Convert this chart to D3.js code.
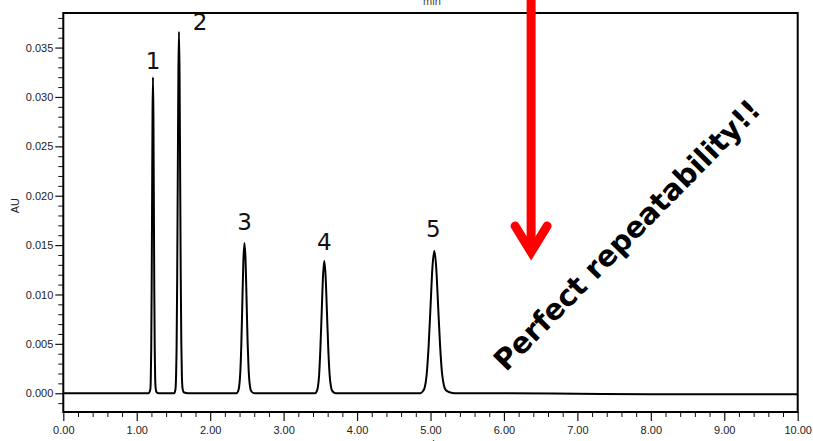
<!DOCTYPE html>
<html>
<head>
<meta charset="utf-8">
<script src="https://cdn.jsdelivr.net/npm/d3@7"></script>
<style>
  html, body { margin: 0; padding: 0; background: #fff; }
  svg { display: block; }
  .tick text { font-family: "Liberation Sans", Arial, sans-serif; font-size: 11px; fill: #222; }
</style>
</head>
<body>
<svg id="chart" width="813" height="441"></svg>
<script>
// Chromatogram trace: retention time (min) vs absorbance (AU), one array per region
const baselineStart = [[0.00, 0.0000], [0.50, 0.0000], [1.00, 0.0000], [1.16, 0.0000]];
const peak1 = [[1.185, 0.0004], [1.191, 0.0014], [1.197, 0.0043], [1.203, 0.0104], [1.209, 0.0194],
               [1.215, 0.0282], [1.221, 0.0320], [1.227, 0.0282], [1.233, 0.0194], [1.239, 0.0105],
               [1.245, 0.0045], [1.251, 0.0015], [1.258, 0.0005], [1.270, 0.0001], [1.300, 0.0000]];
const peak2 = [[1.510, 0.0000], [1.527, 0.0004], [1.535, 0.0016], [1.543, 0.0049], [1.551, 0.0119],
               [1.559, 0.0222], [1.567, 0.0323], [1.575, 0.0366], [1.583, 0.0323], [1.591, 0.0222],
               [1.599, 0.0120], [1.607, 0.0051], [1.615, 0.0017], [1.624, 0.0005], [1.640, 0.0001],
               [1.700, 0.0000]];
const peak3 = [[2.360, 0.0000], [2.380, 0.0002], [2.395, 0.0007], [2.410, 0.0021], [2.424, 0.0049],
               [2.438, 0.0092], [2.452, 0.0134], [2.467, 0.0152], [2.482, 0.0134], [2.496, 0.0093],
               [2.510, 0.0051], [2.524, 0.0023], [2.540, 0.0008], [2.560, 0.0002], [2.600, 0.0000]];
const peak4 = [[3.430, 0.0000], [3.450, 0.0002], [3.466, 0.0006], [3.483, 0.0018], [3.500, 0.0044],
               [3.518, 0.0081], [3.536, 0.0118], [3.554, 0.0134], [3.572, 0.0118], [3.590, 0.0082],
               [3.608, 0.0045], [3.626, 0.0019], [3.644, 0.0007], [3.665, 0.0002], [3.710, 0.0000]];
const peak5 = [[4.860, 0.0000], [4.896, 0.0002], [4.922, 0.0006], [4.948, 0.0019], [4.974, 0.0047],
               [5.000, 0.0087], [5.026, 0.0127], [5.052, 0.0144], [5.078, 0.0127], [5.104, 0.0088],
               [5.130, 0.0049], [5.156, 0.0021], [5.182, 0.0008], [5.210, 0.0003], [5.260, 0.0001],
               [5.330, 0.0000]];
const baselineEnd = [[6.00, 0.0000], [7.00, -0.00005], [8.00, -0.0001], [9.00, -0.0001], [10.00, -0.0001]];

// Peak annotations
const peakNumbers = ["1", "2", "3", "4", "5"];
const peakTimes = [1.221, 1.575, 2.467, 3.554, 5.052];
const peakHeights = [0.0320, 0.0366, 0.0152, 0.0134, 0.0144];

// Axes
const xTickValues = [0, 1, 2, 3, 4, 5, 6, 7, 8, 9, 10];
const yTickValues = [0.000, 0.005, 0.010, 0.015, 0.020, 0.025, 0.030, 0.035];
const xDomain = [0, 10];
const yDomain = [-0.0019, 0.0385];
const xTitle = "min";
const yTitle = "AU";
const callout = "Perfect repeatability!!";

(function draw() {
  const svg = d3.select("#chart");
  const plotLeft = 63.3, plotRight = 797.7, plotTop = 13, plotBottom = 412;

  const x = d3.scaleLinear().domain(xDomain).range([plotLeft, plotRight]);
  const y = d3.scaleLinear().domain(yDomain).range([plotBottom, plotTop]);

  // minor ticks
  const xMinor = d3.range(0, 10.0001, 0.2).filter(v => Math.abs(v - Math.round(v)) > 1e-6);
  const yMinor = d3.range(-1, 39).map(i => i / 1000)
    .filter(v => Math.abs(v * 200 - Math.round(v * 200)) > 1e-6);

  svg.append("g")
    .attr("transform", `translate(0,${plotBottom})`)
    .call(d3.axisBottom(x).tickValues(xMinor).tickSize(5).tickFormat(""))
    .call(g => g.select(".domain").remove())
    .call(g => g.selectAll("line").attr("stroke", "#111").attr("stroke-width", 1));

  svg.append("g")
    .attr("transform", `translate(0,${plotBottom})`)
    .call(d3.axisBottom(x).tickValues(xTickValues).tickSize(9).tickPadding(5).tickFormat(d3.format(".2f")))
    .call(g => g.select(".domain").remove())
    .call(g => g.selectAll("line").attr("stroke", "#111").attr("stroke-width", 1.2));

  svg.append("g")
    .attr("transform", `translate(${plotLeft},0)`)
    .call(d3.axisLeft(y).tickValues(yMinor).tickSize(5).tickFormat(""))
    .call(g => g.select(".domain").remove())
    .call(g => g.selectAll("line").attr("stroke", "#111").attr("stroke-width", 1));

  svg.append("g")
    .attr("transform", `translate(${plotLeft},0)`)
    .call(d3.axisLeft(y).tickValues(yTickValues).tickSize(8).tickPadding(2).tickFormat(d3.format(".3f")))
    .call(g => g.select(".domain").remove())
    .call(g => g.selectAll("line").attr("stroke", "#111").attr("stroke-width", 1.2));

  // plot frame
  svg.append("rect")
    .attr("x", plotLeft).attr("y", plotTop)
    .attr("width", plotRight - plotLeft).attr("height", plotBottom - plotTop)
    .attr("fill", "none").attr("stroke", "#000").attr("stroke-width", 2);

  // axis titles
  svg.append("text")
    .attr("transform", `translate(19,${y(0.0190)}) rotate(-90)`)
    .attr("text-anchor", "middle")
    .style("font-family", "Liberation Sans, Arial, sans-serif")
    .style("font-size", "11px").attr("fill", "#222")
    .text(yTitle);

  svg.append("text")
    .attr("x", x(5.02)).attr("y", 447.5)
    .attr("text-anchor", "middle")
    .style("font-family", "Liberation Sans, Arial, sans-serif")
    .style("font-size", "11px").attr("fill", "#222")
    .text(xTitle);

  // axis title of the panel above, running off the top edge
  svg.append("text")
    .attr("x", x(5.02)).attr("y", 4.5)
    .attr("text-anchor", "middle")
    .style("font-family", "Liberation Sans, Arial, sans-serif")
    .style("font-size", "11px").attr("fill", "#444")
    .text(xTitle);

  // trace
  const trace = [].concat(baselineStart, peak1, peak2, peak3, peak4, peak5, baselineEnd);
  svg.append("path")
    .datum(trace)
    .attr("fill", "none")
    .attr("stroke", "#000")
    .attr("stroke-width", 2)
    .attr("stroke-linejoin", "round")
    .attr("d", d3.line().x(d => x(d[0])).y(d => y(d[1])).curve(d3.curveMonotoneX));

  // peak numbers
  const labelShift = [[0, -8], [21, -2], [0, -13], [0, -11], [-1, -14]];
  svg.append("g").selectAll("text")
    .data(peakNumbers)
    .join("text")
    .attr("x", (d, i) => x(peakTimes[i]) + labelShift[i][0])
    .attr("y", (d, i) => y(peakHeights[i]) + labelShift[i][1])
    .attr("text-anchor", "middle")
    .style("font-family", "DejaVu Sans, Verdana, sans-serif")
    .style("font-size", "23px")
    .attr("fill", "#111")
    .text(d => d);

  // red arrow pointing down
  const ax = x(6.37);
  const arrow = svg.append("g")
    .attr("fill", "none").attr("stroke", "#ff0000").attr("stroke-width", 9);
  arrow.append("line")
    .attr("x1", ax).attr("x2", ax).attr("y1", -10).attr("y2", 250);
  arrow.append("path")
    .attr("stroke-linecap", "round").attr("stroke-linejoin", "miter").attr("stroke-miterlimit", 10)
    .attr("d", `M${ax - 16},226 L${ax},252 L${ax + 16},226`);

  // rotated callout
  svg.append("text")
    .attr("transform", "translate(627,235) rotate(-45.5)")
    .attr("text-anchor", "middle")
    .attr("dominant-baseline", "central")
    .style("font-family", "DejaVu Sans, Verdana, sans-serif")
    .style("font-weight", "bold")
    .style("font-size", "29px")
    .attr("fill", "#000")
    .text(callout);
})();
</script>
</body>
</html>
